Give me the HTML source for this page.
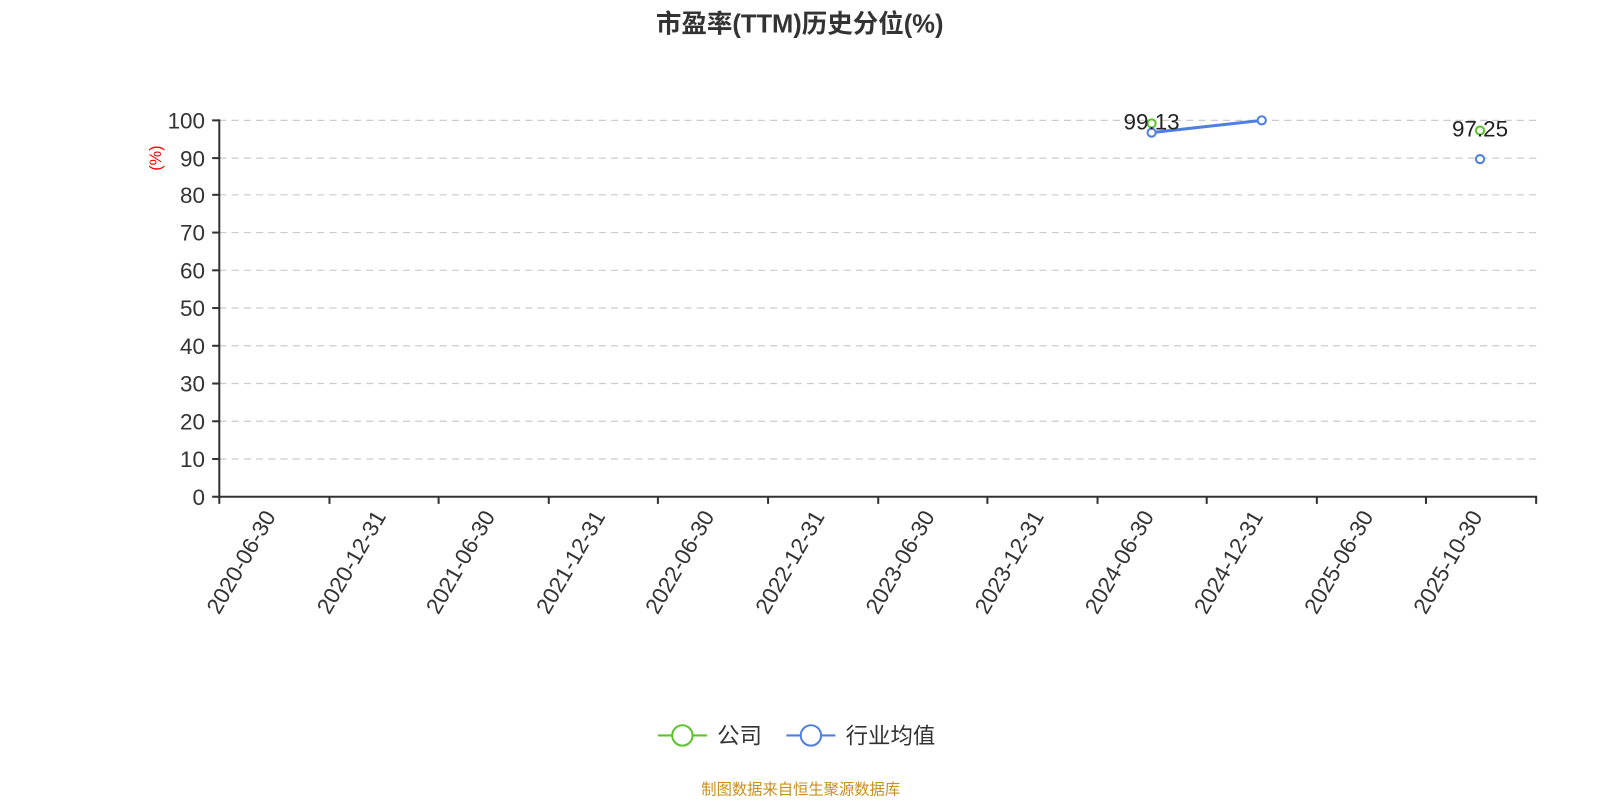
<!DOCTYPE html>
<html><head><meta charset="utf-8"><style>
html,body{margin:0;padding:0;background:#fff;}
svg{display:block;font-family:"Liberation Sans","Noto Sans CJK SC",sans-serif;}
</style></head><body>
<svg width="1600" height="800" viewBox="0 0 1568.6 784.3" xmlns="http://www.w3.org/2000/svg">
<text x="784" y="32" text-anchor="middle" font-size="25" font-weight="bold" fill="#333">市盈率(TTM)历史分位(%)</text>
<g stroke="#ccc" stroke-width="1.2" stroke-dasharray="7,5">
<line x1="215" y1="118" x2="1506" y2="118"/>
<line x1="215" y1="155" x2="1506" y2="155"/>
<line x1="215" y1="191" x2="1506" y2="191"/>
<line x1="215" y1="228" x2="1506" y2="228"/>
<line x1="215" y1="265" x2="1506" y2="265"/>
<line x1="215" y1="302" x2="1506" y2="302"/>
<line x1="215" y1="339" x2="1506" y2="339"/>
<line x1="215" y1="376" x2="1506" y2="376"/>
<line x1="215" y1="413" x2="1506" y2="413"/>
<line x1="215" y1="450" x2="1506" y2="450"/>
</g>
<g stroke="#333" stroke-width="2">
<line x1="215" y1="117" x2="215" y2="488"/>
<line x1="214" y1="487" x2="1507" y2="487"/>
<line x1="208" y1="118" x2="215" y2="118"/><line x1="208" y1="155" x2="215" y2="155"/><line x1="208" y1="191" x2="215" y2="191"/><line x1="208" y1="228" x2="215" y2="228"/><line x1="208" y1="265" x2="215" y2="265"/><line x1="208" y1="302" x2="215" y2="302"/><line x1="208" y1="339" x2="215" y2="339"/><line x1="208" y1="376" x2="215" y2="376"/><line x1="208" y1="413" x2="215" y2="413"/><line x1="208" y1="450" x2="215" y2="450"/><line x1="208" y1="487" x2="215" y2="487"/>
<line x1="215" y1="487" x2="215" y2="494"/><line x1="323" y1="487" x2="323" y2="494"/><line x1="430" y1="487" x2="430" y2="494"/><line x1="538" y1="487" x2="538" y2="494"/><line x1="645" y1="487" x2="645" y2="494"/><line x1="753" y1="487" x2="753" y2="494"/><line x1="861" y1="487" x2="861" y2="494"/><line x1="968" y1="487" x2="968" y2="494"/><line x1="1076" y1="487" x2="1076" y2="494"/><line x1="1183" y1="487" x2="1183" y2="494"/><line x1="1291" y1="487" x2="1291" y2="494"/><line x1="1398" y1="487" x2="1398" y2="494"/><line x1="1506" y1="487" x2="1506" y2="494"/>
</g>
<g font-size="22" fill="#333" text-anchor="end">
<text x="201" y="126">100</text><text x="201" y="163">90</text><text x="201" y="199">80</text><text x="201" y="236">70</text><text x="201" y="273">60</text><text x="201" y="310">50</text><text x="201" y="347">40</text><text x="201" y="384">30</text><text x="201" y="421">20</text><text x="201" y="458">10</text><text x="201" y="495">0</text>
</g>
<text transform="translate(158,155) rotate(-90)" text-anchor="middle" font-size="16" fill="#f00">(%)</text>
<g font-size="22" fill="#333" text-anchor="end">
<text transform="translate(271,506) rotate(-60)">2020-06-30</text>
<text transform="translate(379,506) rotate(-60)">2020-12-31</text>
<text transform="translate(486,506) rotate(-60)">2021-06-30</text>
<text transform="translate(594,506) rotate(-60)">2021-12-31</text>
<text transform="translate(701,506) rotate(-60)">2022-06-30</text>
<text transform="translate(809,506) rotate(-60)">2022-12-31</text>
<text transform="translate(917,506) rotate(-60)">2023-06-30</text>
<text transform="translate(1024,506) rotate(-60)">2023-12-31</text>
<text transform="translate(1132,506) rotate(-60)">2024-06-30</text>
<text transform="translate(1239,506) rotate(-60)">2024-12-31</text>
<text transform="translate(1347,506) rotate(-60)">2025-06-30</text>
<text transform="translate(1454,506) rotate(-60)">2025-10-30</text>
</g>
<line x1="1129" y1="130" x2="1237" y2="118" stroke="#4f7fe0" stroke-width="3"/>
<g fill="#fff" stroke-width="2">
<circle cx="1129" cy="121" r="4" stroke="#5cc42a"/>
<circle cx="1451" cy="128" r="4" stroke="#5cc42a"/>
<circle cx="1129" cy="130" r="4" stroke="#4f7fe0"/>
<circle cx="1237" cy="118" r="4" stroke="#4f7fe0"/>
<circle cx="1451" cy="156" r="4" stroke="#4f7fe0"/>
</g>
<g font-size="22" fill="#222" text-anchor="middle">
<text x="1129" y="127">99.13</text>
<text x="1451" y="134">97.25</text>
</g>
<line x1="645" y1="721" x2="693" y2="721" stroke="#5cc42a" stroke-width="2"/>
<circle cx="669" cy="721" r="10" fill="#fff" stroke="#5cc42a" stroke-width="2"/>
<text x="703" y="729" font-size="22" fill="#333">公司</text>
<line x1="771" y1="721" x2="819" y2="721" stroke="#4f7fe0" stroke-width="2"/>
<circle cx="795" cy="721" r="10" fill="#fff" stroke="#4f7fe0" stroke-width="2"/>
<text x="829" y="729" font-size="22" fill="#333">行业均值</text>
<text x="785" y="779" text-anchor="middle" font-size="15" fill="#c8901e">制图数据来自恒生聚源数据库</text>
</svg>
</body></html>
